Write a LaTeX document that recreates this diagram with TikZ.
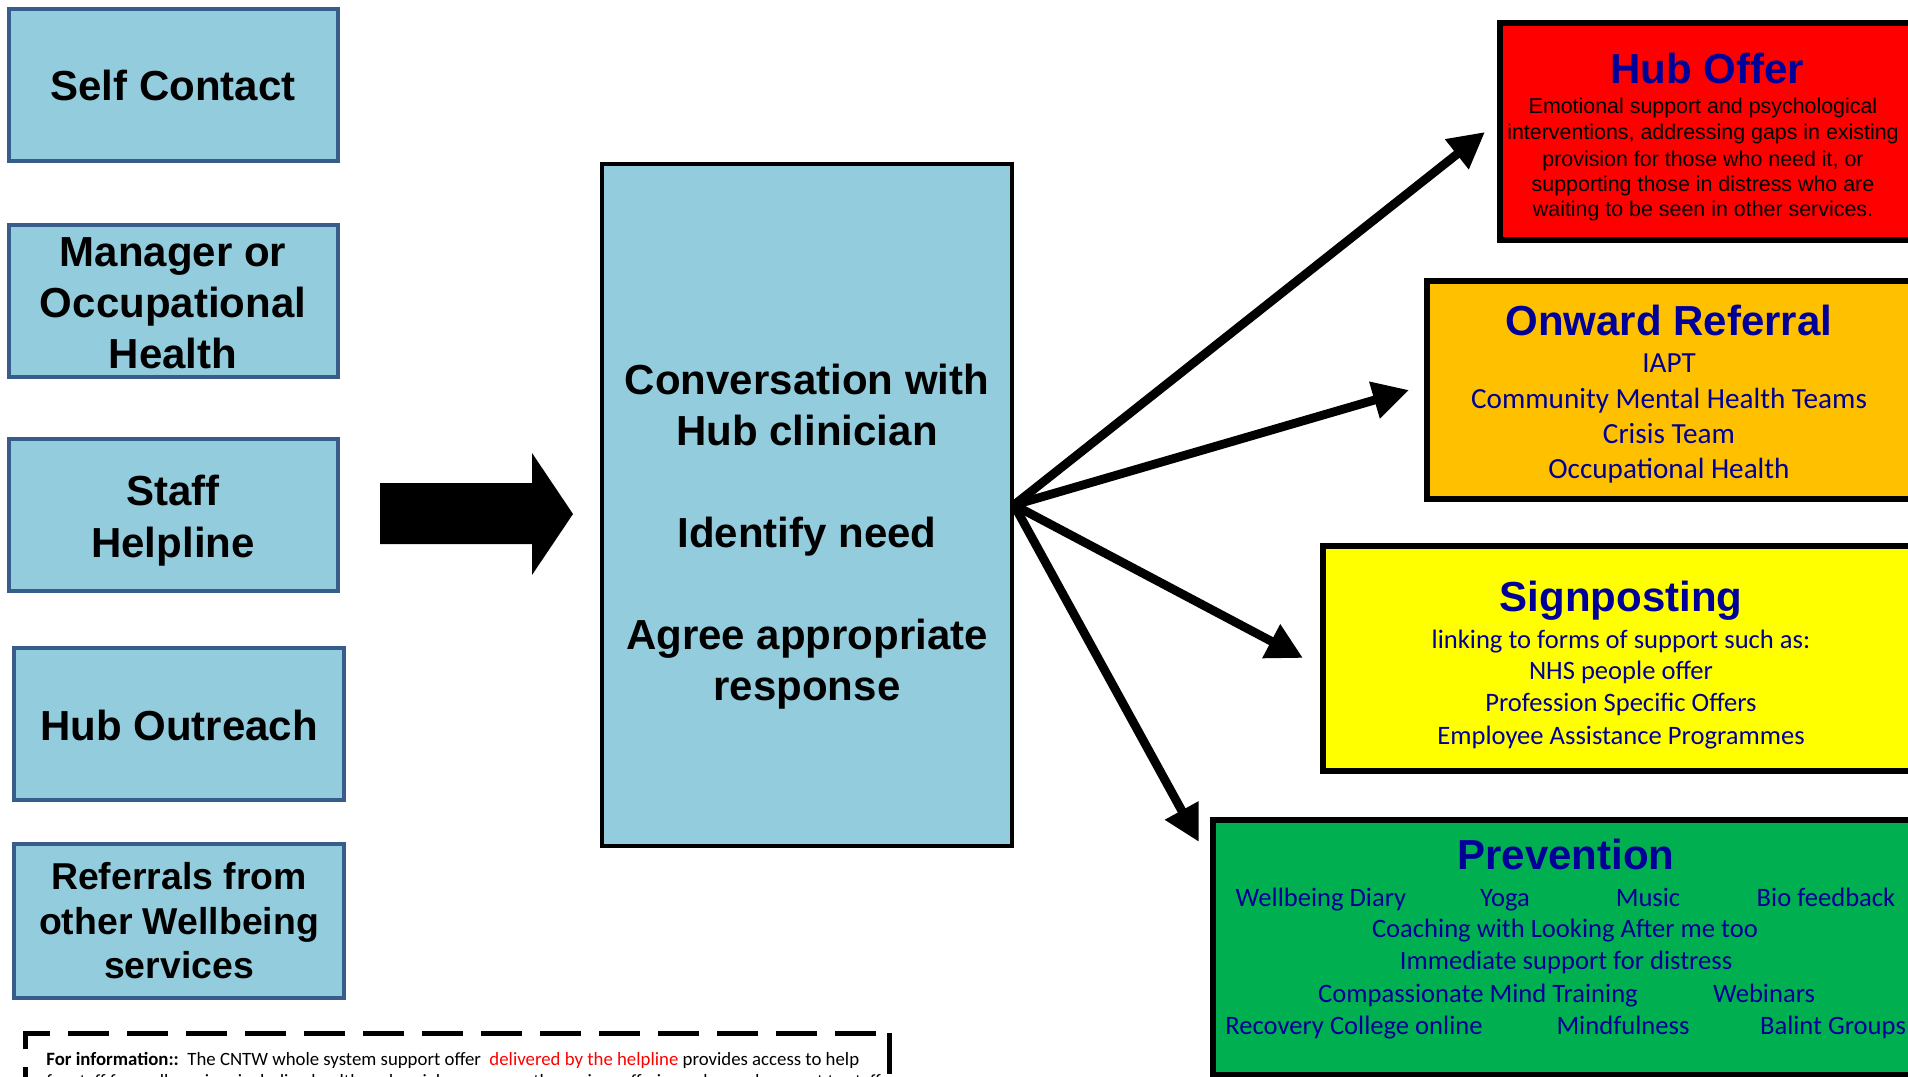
\documentclass[tikz,border=0pt]{standalone}
\usepackage{fontspec}
\usetikzlibrary{arrows.meta}
\newfontfamily\arialf{Liberation Sans}
\newfontfamily\calf{Carlito}
\definecolor{lightfill}{RGB}{147,205,221}
\definecolor{srcborder}{RGB}{56,93,138}
\definecolor{titleblue}{RGB}{0,0,153}
\definecolor{bodyblue}{RGB}{0,0,150}
\definecolor{offred}{RGB}{255,0,0}
\definecolor{offorange}{RGB}{255,192,0}
\definecolor{offyellow}{RGB}{255,255,0}
\definecolor{offgreen}{RGB}{0,176,80}
\definecolor{infored}{RGB}{255,0,0}
\tikzset{
  srcbox/.style={draw=srcborder, line width=2pt, fill=lightfill, inner sep=0pt, minimum height=76pt},
  hubbox/.style={draw=black, line width=2pt, fill=lightfill, inner sep=0pt, minimum width=205pt, minimum height=341pt},
  outbox/.style={draw=black, line width=2.8pt, inner sep=0pt},
  bigtxt/.style={anchor=base, inner sep=0pt, font=\arialf\bfseries\fontsize{21}{25}\selectfont},
  reftxt/.style={anchor=base, inner sep=0pt, font=\arialf\bfseries\fontsize{18.7}{22}\selectfont},
  ttl/.style={anchor=base, inner sep=0pt, text=titleblue, font=\arialf\bfseries\fontsize{21}{25}\selectfont},
  hubtxt/.style={anchor=base, inner sep=0pt, font=\arialf\fontsize{10.7}{13}\selectfont},
  ontxt/.style={anchor=base, inner sep=0pt, text=bodyblue, font=\calf\fontsize{14.6}{17}\selectfont},
  smtxt/.style={anchor=base, inner sep=0pt, text=bodyblue, font=\calf\fontsize{13.3}{16}\selectfont},
  infotxt/.style={anchor=base west, inner sep=0pt, font=\calf\fontsize{9.4}{11}\selectfont},
  fanarrow/.style={line width=4.4pt, -{Triangle[length=18pt,width=18pt]}},
  dashbox/.style={line width=2.5pt, dash pattern=on 20.5pt off 9pt}
}
\begin{document}
\begin{tikzpicture}[x=0.5pt,y=-0.5pt]
\useasboundingbox (0,0) rectangle (1908,1077);
\begin{scope}
\clip (0,0) rectangle (1908,1077);
\fill[white] (0,0) rectangle (1908,1077);

% source boxes
\node[srcbox, minimum width=164.5pt] (self) at (173,85) {};
\node[srcbox, minimum width=164.5pt] (mgr) at (173,301) {};
\node[srcbox, minimum width=164.5pt] (staff) at (173,515) {};
\node[srcbox, minimum width=165pt] (outreach) at (179,724) {};
\node[srcbox, minimum width=165pt, minimum height=77pt] (referrals) at (179,921) {};

\node[bigtxt] (t1) at (173,100) {Self Contact};
\node[bigtxt] (t2a) at (173,266) {Manager or};
\node[bigtxt] (t2b) at (173,317) {Occupational};
\node[bigtxt] (t2c) at (173,368) {Health};
\node[bigtxt] (t3a) at (173,505) {Staff};
\node[bigtxt] (t3b) at (173,557) {Helpline};
\node[bigtxt] (t4) at (179,740) {Hub Outreach};
\node[reftxt] (t5a) at (179,889) {Referrals from};
\node[reftxt] (t5b) at (179,934) {other Wellbeing};
\node[reftxt] (t5c) at (179,978) {services};

% block arrow
\fill[black] (380,483) -- (532,483) -- (532,453) -- (573,514) -- (532,575) -- (532,544) -- (380,544) -- cycle;

% central box
\node[hubbox] (central) at (807,505) {};
\node[bigtxt] (c1) at (807,394) {Conversation with};
\node[bigtxt] (c2) at (807,445) {Hub clinician};
\node[bigtxt] (c3) at (807,547) {Identify need};
\node[bigtxt] (c4) at (807,649) {Agree appropriate};
\node[bigtxt] (c5) at (807,700) {response};

% outcome boxes
\node[outbox, fill=offred, minimum width=207.5pt, minimum height=108.5pt] (hub) at (1707.5,131.5) {};
\node[outbox, fill=offorange, minimum width=244pt, minimum height=109pt] (onward) at (1671,390) {};
\node[outbox, fill=offyellow, minimum width=296pt, minimum height=112.5pt] (sign) at (1619,658.5) {};
\node[outbox, fill=offgreen, minimum width=351pt, minimum height=127.5pt] (prev) at (1564,947.5) {};

\node[ttl] (h0) at (1707,83) {Hub Offer};
\node[hubtxt] (h1) at (1703,113) {Emotional support and psychological};
\node[hubtxt] (h2) at (1703,139) {interventions, addressing gaps in existing};
\node[hubtxt] (h3) at (1703,166) {provision for those who need it, or};
\node[hubtxt] (h4) at (1703,191) {supporting those in distress who are};
\node[hubtxt] (h5) at (1703,216) {waiting to be seen in other services.};

\node[ttl] (o0) at (1669,335) {Onward Referral};
\node[ontxt] (o1) at (1669,372) {IAPT};
\node[ontxt] (o2) at (1669,408) {Community Mental Health Teams};
\node[ontxt] (o3) at (1669,443) {Crisis Team};
\node[ontxt] (o4) at (1669,478) {Occupational Health};

\node[ttl] (s0) at (1621,611) {Signposting};
\node[smtxt] (s1) at (1621,648) {linking to forms of support such as:};
\node[smtxt] (s2) at (1621,679) {NHS people offer};
\node[smtxt] (s3) at (1621,711) {Profession Specific Offers};
\node[smtxt] (s4) at (1621,744) {Employee Assistance Programmes};

\node[ttl] (p0) at (1566,869) {Prevention};
\node[smtxt] (p1a) at (1321,906) {Wellbeing Diary};
\node[smtxt] (p1b) at (1505,906) {Yoga};
\node[smtxt] (p1c) at (1648,906) {Music};
\node[smtxt] (p1d) at (1826,906) {Bio feedback};
\node[smtxt] (p2) at (1565,937) {Coaching with Looking After me too};
\node[smtxt] (p3) at (1566,969) {Immediate support for distress};
\node[smtxt] (p4a) at (1478,1002) {Compassionate Mind Training};
\node[smtxt] (p4b) at (1764,1002) {Webinars};
\node[smtxt] (p5a) at (1354,1034) {Recovery College online};
\node[smtxt] (p5b) at (1623,1034) {Mindfulness};
\node[smtxt] (p5c) at (1833,1034) {Balint Groups};

% fan arrows
\coordinate (tipHub) at (1485,132);
\coordinate (tipOnward) at (1409,390);
\coordinate (tipSign) at (1303,658);
\coordinate (tipPrev) at (1199,842);
\draw[fanarrow] (central.east) -- (tipHub);
\draw[fanarrow] (central.east) -- (tipOnward);
\draw[fanarrow] (central.east) -- (tipSign);
\draw[fanarrow] (central.east) -- (tipPrev);

% information box (dashed, cut by the page edge)
\draw[dashbox] (25,1049) -- (25,1033) -- (889,1033);
\draw[dashbox, dash phase=20.5pt] (25,1049) -- (25,1100);
\draw[dashbox] (889,1033) -- (889,1100);
\node[infotxt] (info1) at (46,1065) {{\bfseries For information::}\ \ The CNTW whole system support offer\ \ \textcolor{infored}{delivered by the helpline} provides access to help};
\node[infotxt] (info2) at (46,1087) {for staff from all services including health and social care across the region, offering enhanced support to staff.};
\end{scope}
\end{tikzpicture}
\end{document}
